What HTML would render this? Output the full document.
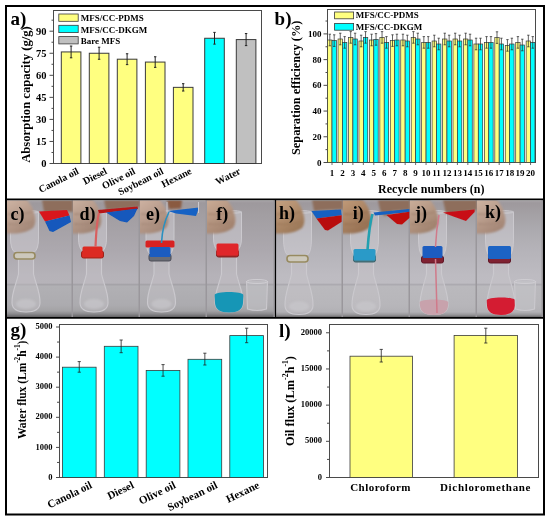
<!DOCTYPE html>
<html><head><meta charset="utf-8"><style>
html,body{margin:0;padding:0;background:#fff;}
svg{display:block;filter:blur(0.4px);}
</style></head><body>
<svg width="550" height="522" viewBox="0 0 550 522">
<rect x="0" y="0" width="550" height="522" fill="#fff"/>
<defs>
<linearGradient id="bg" x1="0" y1="201" x2="0" y2="317" gradientUnits="userSpaceOnUse"><stop offset="0.0000" stop-color="#a6a2a6"/><stop offset="0.0172" stop-color="#9e999d"/><stop offset="0.1207" stop-color="#a29ea2"/><stop offset="0.2500" stop-color="#a6a2a7"/><stop offset="0.4224" stop-color="#aca8ae"/><stop offset="0.6379" stop-color="#b5b2b8"/><stop offset="0.7069" stop-color="#b6b3b9"/><stop offset="0.7198" stop-color="#a5a3a8"/><stop offset="0.7371" stop-color="#b1b0b4"/><stop offset="0.8966" stop-color="#acabaf"/><stop offset="0.9483" stop-color="#a3a2a5"/><stop offset="0.9741" stop-color="#8a898c"/><stop offset="1.0000" stop-color="#626163"/></linearGradient>
<linearGradient id="bg2" x1="0" y1="201" x2="0" y2="317" gradientUnits="userSpaceOnUse"><stop offset="0.0000" stop-color="#a6a2a6"/><stop offset="0.0172" stop-color="#9e999d"/><stop offset="0.1207" stop-color="#a4a1a5"/><stop offset="0.2500" stop-color="#acaaaf"/><stop offset="0.4224" stop-color="#b5b3b9"/><stop offset="0.6379" stop-color="#bdbbc1"/><stop offset="0.7069" stop-color="#bebcc2"/><stop offset="0.7198" stop-color="#acaab0"/><stop offset="0.7371" stop-color="#bab9bd"/><stop offset="0.8966" stop-color="#b7b6ba"/><stop offset="0.9569" stop-color="#b2b1b5"/><stop offset="0.9828" stop-color="#959497"/><stop offset="1.0000" stop-color="#6a696b"/></linearGradient>
<filter id="b05" x="-20%" y="-20%" width="140%" height="140%"><feGaussianBlur stdDeviation="0.5"/></filter>
<filter id="b1" x="-20%" y="-20%" width="140%" height="140%"><feGaussianBlur stdDeviation="0.8"/></filter>
<filter id="b2" x="-30%" y="-30%" width="160%" height="160%"><feGaussianBlur stdDeviation="1.5"/></filter>
<clipPath id="cpc"><rect x="7" y="200.5" width="66" height="117"/></clipPath>
<clipPath id="cpd"><rect x="73" y="200.5" width="67" height="117"/></clipPath>
<clipPath id="cpe"><rect x="140" y="200.5" width="67" height="117"/></clipPath>
<clipPath id="cpf"><rect x="207" y="200.5" width="68" height="117"/></clipPath>
<clipPath id="cph"><rect x="276" y="200.5" width="67" height="117"/></clipPath>
<clipPath id="cpi"><rect x="343" y="200.5" width="67" height="117"/></clipPath>
<clipPath id="cpj"><rect x="410" y="200.5" width="67" height="117"/></clipPath>
<clipPath id="cpk"><rect x="477" y="200.5" width="66" height="117"/></clipPath>
</defs>
<g clip-path="url(#cpc)">
<rect x="7" y="200" width="66" height="118" fill="url(#bg)"/>
<rect x="71.5" y="200" width="1.5" height="118" fill="#9a979c" filter="url(#b05)"/>
<path d="M10.5 212 L10.5 238 Q10.5 249 14.5 252 L34.5 252 Q38.5 249 38.5 238 L38.5 212Z" fill="#d2d0d6" fill-opacity="0.45" stroke="#cbc9ce" stroke-width="1" filter="url(#b05)"/>
<ellipse cx="24.5" cy="212" rx="14" ry="1.6" fill="none" stroke="#c8c6cb" stroke-width="1" filter="url(#b05)"/>
<linearGradient id="hgc" x1="0" y1="0" x2="0.6" y2="1"><stop offset="0" stop-color="#d0b6a6"/><stop offset="1" stop-color="#a48878"/></linearGradient>
<path d="M5 199 L26 199 C30 203 33 208 34 213 C36 218 36 224 33 228 C29 231 23 233 17 233.5 L5 233.5Z" fill="url(#hgc)" filter="url(#b1)"/>
<path d="M8 214 C16 215 24 214 32 212 M8 224 C16 225 24 224 33 222" stroke="#a48878" stroke-width="1.3" fill="none" filter="url(#b1)" opacity="0.8"/>
<path d="M18.5 259 L18.5 274 C16.0 285 11.5 293 12.0 303 Q12.5 312 26.0 312 Q39.5 312 40.0 303 C40.5 293 36.0 285 33.5 274 L33.5 259Z" stroke="#cbc9ce" stroke-width="1.1" fill="#c8c6cc" fill-opacity="0.35" filter="url(#b05)"/>
<ellipse cx="26.0" cy="304" rx="10" ry="5" fill="#cac9cd" opacity="0.6" filter="url(#b1)"/>
<path d="M18.5 266 L10.0 266" stroke="#cbc9ce" stroke-width="1.5" filter="url(#b05)"/>
<rect x="14.0" y="252.5" width="21" height="6.5" rx="3" fill="#ccc8bc" stroke="#978a60" stroke-width="1.6" filter="url(#b05)"/>
<path d="M42 200 L73 200 L73 212 L62 211 L52 213 L44 212Z" fill="#8e6e5c" filter="url(#b1)" />
<path d="M39 211.5 L67 210 L69.5 215.5 L45 221.5Z" fill="#d8141c" filter="url(#b05)" />
<path d="M45 221.5 L69.5 215.5 L71 222 L53 232 L49.5 231Z" fill="#1258bc" filter="url(#b05)" />
<text x="10.6" y="219.7" font-family="Liberation Serif" font-weight="bold" font-size="18">c)</text>
</g>
<g clip-path="url(#cpd)">
<rect x="73" y="200" width="67" height="118" fill="url(#bg)"/>
<rect x="138.5" y="200" width="1.5" height="118" fill="#9a979c" filter="url(#b05)"/>
<path d="M78.5 212 L78.5 238 Q78.5 248 82.5 251 L102.5 251 Q106.5 248 106.5 238 L106.5 212Z" fill="#d2d0d6" fill-opacity="0.45" stroke="#cbc9ce" stroke-width="1" filter="url(#b05)"/>
<ellipse cx="92.5" cy="212" rx="14" ry="1.6" fill="none" stroke="#c8c6cb" stroke-width="1" filter="url(#b05)"/>
<linearGradient id="hgd" x1="0" y1="0" x2="0.6" y2="1"><stop offset="0" stop-color="#ccb2a2"/><stop offset="1" stop-color="#a08474"/></linearGradient>
<path d="M71 199 L92 199 C96 203 99 208 100 213 C102 218 102 224 99 228 C95 231 89 233 83 233.5 L71 233.5Z" fill="url(#hgd)" filter="url(#b1)"/>
<path d="M74 214 C82 215 90 214 98 212 M74 224 C82 225 90 224 99 222" stroke="#a08474" stroke-width="1.3" fill="none" filter="url(#b1)" opacity="0.8"/>
<path d="M86.5 258 L86.5 274 C84.0 285 79.5 293 80.0 303 Q80.5 312 94.0 312 Q107.5 312 108.0 303 C108.5 293 104.0 285 101.5 274 L101.5 258Z" stroke="#cbc9ce" stroke-width="1.1" fill="#c8c6cc" fill-opacity="0.35" filter="url(#b05)"/>
<ellipse cx="94.0" cy="304" rx="10" ry="5" fill="#cac9cd" opacity="0.6" filter="url(#b1)"/>
<path d="M86.5 266 L78.0 266" stroke="#cbc9ce" stroke-width="1.5" filter="url(#b05)"/>
<rect x="81.5" y="251" width="22" height="7" rx="2" fill="#d42a22" stroke="#a02018" stroke-width="1" filter="url(#b05)"/>
<rect x="82.5" y="246.5" width="20" height="10.5" rx="1.5" fill="#dc2a22" filter="url(#b05)"/>
<path d="M104 200 L140 200 L140 207 L120 209 L106 210Z" fill="#8e6e5c" filter="url(#b1)" />
<path d="M98 210 L137.5 206.5 L138 209 L99 213.5Z" fill="#b81418" filter="url(#b05)" />
<path d="M106 212.5 L137.5 208.5 L134 216 L127 222.5 L120 221Z" fill="#1258bc" filter="url(#b05)" />
<path d="M99 213 C96.5 222 96 236 95.5 247" stroke="#d86060" stroke-width="2.2" fill="none" filter="url(#b05)"/>
<text x="79.6" y="219.5" font-family="Liberation Serif" font-weight="bold" font-size="18">d)</text>
</g>
<g clip-path="url(#cpe)">
<rect x="140" y="200" width="67" height="118" fill="url(#bg)"/>
<rect x="205.5" y="200" width="1.5" height="118" fill="#9a979c" filter="url(#b05)"/>
<path d="M146 212 L146 238 Q146 251 150 254 L170 254 Q174 251 174 238 L174 212Z" fill="#d2d0d6" fill-opacity="0.45" stroke="#cbc9ce" stroke-width="1" filter="url(#b05)"/>
<ellipse cx="160" cy="212" rx="14" ry="1.6" fill="none" stroke="#c8c6cb" stroke-width="1" filter="url(#b05)"/>
<linearGradient id="hge" x1="0" y1="0" x2="0.6" y2="1"><stop offset="0" stop-color="#d0b4a4"/><stop offset="1" stop-color="#a48878"/></linearGradient>
<path d="M138 199 L159 199 C163 203 166 208 167 213 C169 218 169 224 166 228 C162 231 156 233 150 233.5 L138 233.5Z" fill="url(#hge)" filter="url(#b1)"/>
<path d="M141 214 C149 215 157 214 165 212 M141 224 C149 225 157 224 166 222" stroke="#a48878" stroke-width="1.3" fill="none" filter="url(#b1)" opacity="0.8"/>
<path d="M154.0 261 L154.0 274 C151.5 285 147.0 293 147.5 303 Q148.0 312 161.5 312 Q175.0 312 175.5 303 C176.0 293 171.5 285 169.0 274 L169.0 261Z" stroke="#cbc9ce" stroke-width="1.1" fill="#c8c6cc" fill-opacity="0.35" filter="url(#b05)"/>
<ellipse cx="161.5" cy="304" rx="10" ry="5" fill="#cac9cd" opacity="0.6" filter="url(#b1)"/>
<path d="M154.0 266 L145.5 266" stroke="#cbc9ce" stroke-width="1.5" filter="url(#b05)"/>
<rect x="149" y="254" width="22" height="7" rx="2" fill="#6a6c74" stroke="#4a4a56" stroke-width="1" filter="url(#b05)"/>
<rect x="145.5" y="240.5" width="29" height="7" rx="1.5" fill="#d82020" filter="url(#b05)"/>
<rect x="149.5" y="247" width="21" height="10" rx="1.5" fill="#1a5cc0" filter="url(#b05)"/>
<path d="M167 200 L182 200 L181 208.5 L169 209Z" fill="#8a5a40" filter="url(#b1)" />
<path d="M168 211 L199 207.5 L196 216 L176 213.5Z" fill="#1462c4" filter="url(#b05)" />
<path d="M198.5 202 L198.5 213 M167 202 L167 212" stroke="#cbc9ce" stroke-width="1" filter="url(#b05)"/>
<path d="M169 212 C165 220 162 232 161.5 243" stroke="#2a90c0" stroke-width="1.6" fill="none" filter="url(#b05)"/>
<text x="146" y="219.5" font-family="Liberation Serif" font-weight="bold" font-size="18">e)</text>
</g>
<g clip-path="url(#cpf)">
<rect x="207" y="200" width="68" height="118" fill="url(#bg)"/>
<rect x="273.5" y="200" width="1.5" height="118" fill="#9a979c" filter="url(#b05)"/>
<path d="M213.5 212 L213.5 238 Q213.5 247 217.5 250 L237.5 250 Q241.5 247 241.5 238 L241.5 212Z" fill="#d2d0d6" fill-opacity="0.45" stroke="#cbc9ce" stroke-width="1" filter="url(#b05)"/>
<ellipse cx="227.5" cy="212" rx="14" ry="1.6" fill="none" stroke="#c8c6cb" stroke-width="1" filter="url(#b05)"/>
<linearGradient id="hgf" x1="0" y1="0" x2="0.6" y2="1"><stop offset="0" stop-color="#ccae98"/><stop offset="1" stop-color="#a2826e"/></linearGradient>
<path d="M205 199 L226 199 C230 203 233 208 234 213 C236 218 236 224 233 228 C229 231 223 233 217 233.5 L205 233.5Z" fill="url(#hgf)" filter="url(#b1)"/>
<path d="M208 214 C216 215 224 214 232 212 M208 224 C216 225 224 224 233 222" stroke="#a2826e" stroke-width="1.3" fill="none" filter="url(#b1)" opacity="0.8"/>
<path d="M221.5 257 L221.5 274 C219.0 285 214.5 293 215.0 303 Q215.5 312 229.0 312 Q242.5 312 243.0 303 C243.5 293 239.0 285 236.5 274 L236.5 257Z" stroke="#cbc9ce" stroke-width="1.1" fill="#c8c6cc" fill-opacity="0.35" filter="url(#b05)"/>
<ellipse cx="229.0" cy="304" rx="10" ry="5" fill="#cac9cd" opacity="0.6" filter="url(#b1)"/>
<path d="M221.5 266 L213.0 266" stroke="#cbc9ce" stroke-width="1.5" filter="url(#b05)"/>
<path d="M214.7 295 C214.5 291 243.5 291 243.3 295 L243.0 303 Q242.5 312.5 229.0 312.5 Q215.5 312.5 215.0 303Z" fill="#1896b6" filter="url(#b05)"/>
<rect x="216.5" y="250" width="22" height="7" rx="2" fill="#a82828" stroke="#802020" stroke-width="1" filter="url(#b05)"/>
<rect x="216.5" y="243.5" width="22" height="12" rx="1.5" fill="#e0282a" filter="url(#b05)"/>
<path d="M246.5 281 L247.5 309 Q257 312 266.5 309 L267.5 281" stroke="#cbc9ce" stroke-width="1.1" fill="#c6c5ca" fill-opacity="0.5" filter="url(#b05)"/>
<ellipse cx="257" cy="281.5" rx="10.5" ry="2" fill="none" stroke="#cfcdd2" stroke-width="1" filter="url(#b05)"/>
<text x="216.2" y="219.5" font-family="Liberation Serif" font-weight="bold" font-size="18">f)</text>
</g>
<g clip-path="url(#cph)">
<rect x="276" y="200" width="67" height="118" fill="url(#bg2)"/>
<rect x="341.5" y="200" width="1.5" height="118" fill="#9a979c" filter="url(#b05)"/>
<path d="M283.5 212 L283.5 238 Q283.5 252 287.5 255 L307.5 255 Q311.5 252 311.5 238 L311.5 212Z" fill="#d2d0d6" fill-opacity="0.45" stroke="#cbc9ce" stroke-width="1" filter="url(#b05)"/>
<ellipse cx="297.5" cy="212" rx="14" ry="1.6" fill="none" stroke="#c8c6cb" stroke-width="1" filter="url(#b05)"/>
<linearGradient id="hgh" x1="0" y1="0" x2="0.6" y2="1"><stop offset="0" stop-color="#c8a484"/><stop offset="1" stop-color="#9c7858"/></linearGradient>
<path d="M274 199 L295 199 C299 203 302 208 303 213 C305 218 305 224 302 228 C298 231 292 233 286 233.5 L274 233.5Z" fill="url(#hgh)" filter="url(#b1)"/>
<path d="M277 214 C285 215 293 214 301 212 M277 224 C285 225 293 224 302 222" stroke="#9c7858" stroke-width="1.3" fill="none" filter="url(#b1)" opacity="0.8"/>
<path d="M291.5 262 L291.5 274 C289.0 285 284.5 295.5 285.0 305.5 Q285.5 314.5 299.0 314.5 Q312.5 314.5 313.0 305.5 C313.5 295.5 309.0 285 306.5 274 L306.5 262Z" stroke="#cbc9ce" stroke-width="1.1" fill="#c8c6cc" fill-opacity="0.35" filter="url(#b05)"/>
<ellipse cx="299.0" cy="306.5" rx="10" ry="5" fill="#cac9cd" opacity="0.6" filter="url(#b1)"/>
<path d="M291.5 266 L283.0 266" stroke="#cbc9ce" stroke-width="1.5" filter="url(#b05)"/>
<rect x="287.0" y="255.5" width="21" height="6.5" rx="3" fill="#ccc8bc" stroke="#978a60" stroke-width="1.6" filter="url(#b05)"/>
<path d="M312 200 L343 200 L343 209.5 L325 210 L314 211Z" fill="#8e6e5c" filter="url(#b1)" />
<path d="M311.5 211 L341 209.5 L341.7 215.2 L316.4 218.5Z" fill="#1460c0" filter="url(#b05)" />
<path d="M316.4 218.5 L341.7 215.2 L341.7 221.7 L328 230.5 L325 230Z" fill="#b80c10" filter="url(#b05)" />
<text x="278.9" y="218.7" font-family="Liberation Serif" font-weight="bold" font-size="18">h)</text>
</g>
<g clip-path="url(#cpi)">
<rect x="343" y="200" width="67" height="118" fill="url(#bg2)"/>
<rect x="408.5" y="200" width="1.5" height="118" fill="#9a979c" filter="url(#b05)"/>
<path d="M350.5 212 L350.5 238 Q350.5 252 354.5 255 L374.5 255 Q378.5 252 378.5 238 L378.5 212Z" fill="#d2d0d6" fill-opacity="0.45" stroke="#cbc9ce" stroke-width="1" filter="url(#b05)"/>
<ellipse cx="364.5" cy="212" rx="14" ry="1.6" fill="none" stroke="#c8c6cb" stroke-width="1" filter="url(#b05)"/>
<linearGradient id="hgi" x1="0" y1="0" x2="0.6" y2="1"><stop offset="0" stop-color="#c29c7a"/><stop offset="1" stop-color="#967052"/></linearGradient>
<path d="M341 199 L362 199 C366 203 369 208 370 213 C372 218 372 224 369 228 C365 231 359 233 353 233.5 L341 233.5Z" fill="url(#hgi)" filter="url(#b1)"/>
<path d="M344 214 C352 215 360 214 368 212 M344 224 C352 225 360 224 369 222" stroke="#967052" stroke-width="1.3" fill="none" filter="url(#b1)" opacity="0.8"/>
<path d="M358.5 262 L358.5 274 C356.0 285 351.5 295.5 352.0 305.5 Q352.5 314.5 366.0 314.5 Q379.5 314.5 380.0 305.5 C380.5 295.5 376.0 285 373.5 274 L373.5 262Z" stroke="#cbc9ce" stroke-width="1.1" fill="#c8c6cc" fill-opacity="0.35" filter="url(#b05)"/>
<ellipse cx="366.0" cy="306.5" rx="10" ry="5" fill="#cac9cd" opacity="0.6" filter="url(#b1)"/>
<path d="M358.5 266 L350.0 266" stroke="#cbc9ce" stroke-width="1.5" filter="url(#b05)"/>
<rect x="353.5" y="255" width="22" height="7" rx="2" fill="#4a7a84" stroke="#3a6068" stroke-width="1" filter="url(#b05)"/>
<rect x="353.5" y="249" width="22" height="11.5" rx="1.5" fill="#2a9ac8" filter="url(#b05)"/>
<path d="M378 200 L410 200 L410 210 L392 211 L390 215 L384 216 L380 210Z" fill="#8e6e5c" filter="url(#b1)" />
<path d="M373.5 212.5 L409.4 209 L409.4 212 L375 215.5Z" fill="#1460c0" filter="url(#b05)" />
<path d="M386.4 215 L409.4 211.7 L409.4 218 L402 224.5 L397 224Z" fill="#c01010" filter="url(#b05)" />
<path d="M372.5 214 C369.5 224 368.5 236 367.5 250" stroke="#22a0b0" stroke-width="2.6" fill="none" filter="url(#b05)"/>
<text x="352.8" y="218.7" font-family="Liberation Serif" font-weight="bold" font-size="18">i)</text>
</g>
<g clip-path="url(#cpj)">
<rect x="410" y="200" width="67" height="118" fill="url(#bg2)"/>
<rect x="475.5" y="200" width="1.5" height="118" fill="#9a979c" filter="url(#b05)"/>
<path d="M418.5 212 L418.5 238 Q418.5 253 422.5 256 L442.5 256 Q446.5 253 446.5 238 L446.5 212Z" fill="#d2d0d6" fill-opacity="0.45" stroke="#cbc9ce" stroke-width="1" filter="url(#b05)"/>
<ellipse cx="432.5" cy="212" rx="14" ry="1.6" fill="none" stroke="#c8c6cb" stroke-width="1" filter="url(#b05)"/>
<linearGradient id="hgj" x1="0" y1="0" x2="0.6" y2="1"><stop offset="0" stop-color="#ccb09c"/><stop offset="1" stop-color="#a0826e"/></linearGradient>
<path d="M408 199 L429 199 C433 203 436 208 437 213 C439 218 439 224 436 228 C432 231 426 233 420 233.5 L408 233.5Z" fill="url(#hgj)" filter="url(#b1)"/>
<path d="M411 214 C419 215 427 214 435 212 M411 224 C419 225 427 224 436 222" stroke="#a0826e" stroke-width="1.3" fill="none" filter="url(#b1)" opacity="0.8"/>
<path d="M426.5 263 L426.5 274 C424.0 285 419.5 295.5 420.0 305.5 Q420.5 314.5 434.0 314.5 Q447.5 314.5 448.0 305.5 C448.5 295.5 444.0 285 441.5 274 L441.5 263Z" stroke="#cbc9ce" stroke-width="1.1" fill="#c8c6cc" fill-opacity="0.35" filter="url(#b05)"/>
<ellipse cx="434.0" cy="306.5" rx="10" ry="5" fill="#cac9cd" opacity="0.6" filter="url(#b1)"/>
<path d="M426.5 266 L418.0 266" stroke="#cbc9ce" stroke-width="1.5" filter="url(#b05)"/>
<path d="M419.7 302.5 C419.5 298.5 448.5 298.5 448.3 302.5 L448.0 305.5 Q447.5 315.0 434.0 315.0 Q420.5 315.0 420.0 305.5Z" fill="#c8a2ac" filter="url(#b05)"/>
<rect x="421.5" y="256" width="22" height="7" rx="2" fill="#802030" stroke="#601828" stroke-width="1" filter="url(#b05)"/>
<rect x="422.5" y="246" width="20" height="12" rx="1.5" fill="#1a5cc0" filter="url(#b05)"/>
<path d="M443 200 L477 200 L477 210 L455 213 L446 214Z" fill="#8e6e5c" filter="url(#b1)" />
<path d="M443 212.6 L474.6 209.5 L474.6 212 L466 221 L452.7 216.3Z" fill="#c81018" filter="url(#b05)" />
<path d="M439 215 C437 226 436 236 435.5 247 M435.5 259 L437 313" stroke="#d07a8a" stroke-width="1.5" fill="none" filter="url(#b05)"/>
<text x="414.9" y="218.8" font-family="Liberation Serif" font-weight="bold" font-size="18">j)</text>
</g>
<g clip-path="url(#cpk)">
<rect x="477" y="200" width="66" height="118" fill="url(#bg2)"/>
<rect x="541.5" y="200" width="1.5" height="118" fill="#9a979c" filter="url(#b05)"/>
<path d="M485.5 212 L485.5 238 Q485.5 253 489.5 256 L509.5 256 Q513.5 253 513.5 238 L513.5 212Z" fill="#d2d0d6" fill-opacity="0.45" stroke="#cbc9ce" stroke-width="1" filter="url(#b05)"/>
<ellipse cx="499.5" cy="212" rx="14" ry="1.6" fill="none" stroke="#c8c6cb" stroke-width="1" filter="url(#b05)"/>
<linearGradient id="hgk" x1="0" y1="0" x2="0.6" y2="1"><stop offset="0" stop-color="#d0b6a4"/><stop offset="1" stop-color="#a48676"/></linearGradient>
<path d="M475 199 L496 199 C500 203 503 208 504 213 C506 218 506 224 503 228 C499 231 493 233 487 233.5 L475 233.5Z" fill="url(#hgk)" filter="url(#b1)"/>
<path d="M478 214 C486 215 494 214 502 212 M478 224 C486 225 494 224 503 222" stroke="#a48676" stroke-width="1.3" fill="none" filter="url(#b1)" opacity="0.8"/>
<path d="M493.5 263 L493.5 274 C491.0 285 486.5 295.5 487.0 305.5 Q487.5 314.5 501.0 314.5 Q514.5 314.5 515.0 305.5 C515.5 295.5 511.0 285 508.5 274 L508.5 263Z" stroke="#cbc9ce" stroke-width="1.1" fill="#c8c6cc" fill-opacity="0.35" filter="url(#b05)"/>
<ellipse cx="501.0" cy="306.5" rx="10" ry="5" fill="#cac9cd" opacity="0.6" filter="url(#b1)"/>
<path d="M493.5 266 L485.0 266" stroke="#cbc9ce" stroke-width="1.5" filter="url(#b05)"/>
<path d="M486.7 300.5 C486.5 296.5 515.5 296.5 515.3 300.5 L515.0 305.5 Q514.5 315.0 501.0 315.0 Q487.5 315.0 487.0 305.5Z" fill="#d41a30" filter="url(#b05)"/>
<rect x="488.5" y="256" width="22" height="7" rx="2" fill="#802030" stroke="#601828" stroke-width="1" filter="url(#b05)"/>
<rect x="488.0" y="246" width="23" height="13" rx="1.5" fill="#1a64c4" filter="url(#b05)"/>
<path d="M514.5 281 L515.5 309 Q525 312 534.5 309 L535.5 281" stroke="#cbc9ce" stroke-width="1.1" fill="#c6c5ca" fill-opacity="0.5" filter="url(#b05)"/>
<ellipse cx="525" cy="281.5" rx="10.5" ry="2" fill="none" stroke="#cfcdd2" stroke-width="1" filter="url(#b05)"/>
<text x="485" y="218.3" font-family="Liberation Serif" font-weight="bold" font-size="18">k)</text>
</g>
<g font-family="Liberation Serif" font-weight="bold">
<rect x="53.5" y="10.5" width="208.0" height="153.0" fill="#fff" stroke="#4a4a4a" stroke-width="1"/>
<path d="M49.5 163.50H53.5" stroke="#4a4a4a" stroke-width="1"/>
<text x="46.50" y="166.90" font-size="10.5" text-anchor="end" >0</text>
<path d="M49.5 141.45H53.5" stroke="#4a4a4a" stroke-width="1"/>
<text x="46.50" y="144.85" font-size="10.5" text-anchor="end" >15</text>
<path d="M49.5 119.40H53.5" stroke="#4a4a4a" stroke-width="1"/>
<text x="46.50" y="122.80" font-size="10.5" text-anchor="end" >30</text>
<path d="M49.5 97.35H53.5" stroke="#4a4a4a" stroke-width="1"/>
<text x="46.50" y="100.75" font-size="10.5" text-anchor="end" >45</text>
<path d="M49.5 75.30H53.5" stroke="#4a4a4a" stroke-width="1"/>
<text x="46.50" y="78.70" font-size="10.5" text-anchor="end" >60</text>
<path d="M49.5 53.25H53.5" stroke="#4a4a4a" stroke-width="1"/>
<text x="46.50" y="56.65" font-size="10.5" text-anchor="end" >75</text>
<path d="M49.5 31.20H53.5" stroke="#4a4a4a" stroke-width="1"/>
<text x="46.50" y="34.60" font-size="10.5" text-anchor="end" >90</text>
<path d="M51.5 152.47H53.5" stroke="#4a4a4a" stroke-width="1"/>
<path d="M51.5 130.43H53.5" stroke="#4a4a4a" stroke-width="1"/>
<path d="M51.5 108.38H53.5" stroke="#4a4a4a" stroke-width="1"/>
<path d="M51.5 86.33H53.5" stroke="#4a4a4a" stroke-width="1"/>
<path d="M51.5 64.28H53.5" stroke="#4a4a4a" stroke-width="1"/>
<path d="M51.5 42.23H53.5" stroke="#4a4a4a" stroke-width="1"/>
<path d="M51.5 20.18H53.5" stroke="#4a4a4a" stroke-width="1"/>
<rect x="61.3" y="51.93" width="19.6" height="111.57" fill="#ffff80" stroke="#3a3a3a" stroke-width="1"/>
<path d="M71.10 46.05V57.81M69.90 46.05H72.30M69.90 57.81H72.30" stroke="#222" stroke-width="1" fill="none"/>
<rect x="89.3" y="53.25" width="19.6" height="110.25" fill="#ffff80" stroke="#3a3a3a" stroke-width="1"/>
<path d="M99.10 47.22V59.28M97.90 47.22H100.30M97.90 59.28H100.30" stroke="#222" stroke-width="1" fill="none"/>
<rect x="117.3" y="59.20" width="19.6" height="104.30" fill="#ffff80" stroke="#3a3a3a" stroke-width="1"/>
<path d="M127.10 53.76V64.64M125.90 53.76H128.30M125.90 64.64H128.30" stroke="#222" stroke-width="1" fill="none"/>
<rect x="145.4" y="62.07" width="19.6" height="101.43" fill="#ffff80" stroke="#3a3a3a" stroke-width="1"/>
<path d="M155.20 56.78V67.36M154.00 56.78H156.40M154.00 67.36H156.40" stroke="#222" stroke-width="1" fill="none"/>
<rect x="173.4" y="87.35" width="19.6" height="76.15" fill="#ffff80" stroke="#3a3a3a" stroke-width="1"/>
<path d="M183.20 83.68V91.03M182.00 83.68H184.40M182.00 91.03H184.40" stroke="#222" stroke-width="1" fill="none"/>
<rect x="204.7" y="38.26" width="19.6" height="125.24" fill="#00ffff" stroke="#3a3a3a" stroke-width="1"/>
<path d="M214.50 32.38V44.14M213.30 32.38H215.70M213.30 44.14H215.70" stroke="#222" stroke-width="1" fill="none"/>
<rect x="236.3" y="39.58" width="19.6" height="123.92" fill="#c0c0c0" stroke="#3a3a3a" stroke-width="1"/>
<path d="M246.10 33.55V45.61M244.90 33.55H247.30M244.90 45.61H247.30" stroke="#222" stroke-width="1" fill="none"/>
<rect x="58.8" y="14.00" width="19.4" height="7.3" fill="#ffff80" stroke="#3a3a3a" stroke-width="0.8"/>
<text x="80.70" y="21.30" font-size="9" text-anchor="start" >MFS/CC-PDMS</text>
<rect x="58.8" y="25.30" width="19.4" height="7.3" fill="#00ffff" stroke="#3a3a3a" stroke-width="0.8"/>
<text x="80.70" y="32.60" font-size="9" text-anchor="start" >MFS/CC-DKGM</text>
<rect x="58.8" y="36.60" width="19.4" height="7.3" fill="#c0c0c0" stroke="#3a3a3a" stroke-width="0.8"/>
<text x="80.70" y="43.90" font-size="9" text-anchor="start" >Bare MFS</text>
<text x="79.60" y="173.20" font-size="10" text-anchor="end" transform="rotate(-27 79.60 173.20)" >Canola oil</text>
<text x="107.80" y="173.20" font-size="10" text-anchor="end" transform="rotate(-27 107.80 173.20)" >Diesel</text>
<text x="136.00" y="173.20" font-size="10" text-anchor="end" transform="rotate(-27 136.00 173.20)" >Olive oil</text>
<text x="164.20" y="173.20" font-size="10" text-anchor="end" transform="rotate(-27 164.20 173.20)" >Soybean oil</text>
<text x="192.30" y="173.20" font-size="10" text-anchor="end" transform="rotate(-27 192.30 173.20)" >Hexane</text>
<text x="241.30" y="173.20" font-size="10" text-anchor="end" transform="rotate(-27 241.30 173.20)" >Water</text>
<text x="29.50" y="94.50" font-size="12.2" text-anchor="middle" transform="rotate(-90 29.50 94.50)" textLength="136.5" lengthAdjust="spacingAndGlyphs" >Absorption capacity (g/g)</text>
<text x="10.50" y="24.50" font-size="19" text-anchor="start" >a)</text>
<rect x="327.5" y="9.5" width="208.0" height="153.0" fill="#fff" stroke="#4a4a4a" stroke-width="1"/>
<path d="M323.5 162.50H327.5" stroke="#4a4a4a" stroke-width="1"/>
<text x="321.60" y="165.50" font-size="9" text-anchor="end" >0</text>
<path d="M323.5 136.78H327.5" stroke="#4a4a4a" stroke-width="1"/>
<text x="321.60" y="139.78" font-size="9" text-anchor="end" >20</text>
<path d="M323.5 111.06H327.5" stroke="#4a4a4a" stroke-width="1"/>
<text x="321.60" y="114.06" font-size="9" text-anchor="end" >40</text>
<path d="M323.5 85.34H327.5" stroke="#4a4a4a" stroke-width="1"/>
<text x="321.60" y="88.34" font-size="9" text-anchor="end" >60</text>
<path d="M323.5 59.62H327.5" stroke="#4a4a4a" stroke-width="1"/>
<text x="321.60" y="62.62" font-size="9" text-anchor="end" >80</text>
<path d="M323.5 33.90H327.5" stroke="#4a4a4a" stroke-width="1"/>
<text x="321.60" y="36.90" font-size="9" text-anchor="end" >100</text>
<path d="M325.5 149.64H327.5" stroke="#4a4a4a" stroke-width="1"/>
<path d="M325.5 123.92H327.5" stroke="#4a4a4a" stroke-width="1"/>
<path d="M325.5 98.20H327.5" stroke="#4a4a4a" stroke-width="1"/>
<path d="M325.5 72.48H327.5" stroke="#4a4a4a" stroke-width="1"/>
<path d="M325.5 46.76H327.5" stroke="#4a4a4a" stroke-width="1"/>
<path d="M325.5 21.04H327.5" stroke="#4a4a4a" stroke-width="1"/>
<rect x="327.60" y="40" width="4.4" height="122.50" fill="#ffff80" stroke="#3a3a3a" stroke-width="0.7"/>
<rect x="332.00" y="40.6" width="4.4" height="121.90" fill="#00ffff" stroke="#3a3a3a" stroke-width="0.7"/>
<path d="M329.80 34.20V45.80M328.60 34.20H331.00M328.60 45.80H331.00" stroke="#222" stroke-width="0.7" fill="none"/>
<path d="M334.20 34.80V46.40M333.00 34.80H335.40M333.00 46.40H335.40" stroke="#222" stroke-width="0.7" fill="none"/>
<text x="332.00" y="175.50" font-size="9" text-anchor="middle" >1</text>
<path d="M332.00 162.5 V165.0" stroke="#4a4a4a" stroke-width="0.8"/>
<rect x="338.05" y="39" width="4.4" height="123.50" fill="#ffff80" stroke="#3a3a3a" stroke-width="0.7"/>
<rect x="342.45" y="42.4" width="4.4" height="120.10" fill="#00ffff" stroke="#3a3a3a" stroke-width="0.7"/>
<path d="M340.25 33.20V44.80M339.05 33.20H341.45M339.05 44.80H341.45" stroke="#222" stroke-width="0.7" fill="none"/>
<path d="M344.65 36.60V48.20M343.45 36.60H345.85M343.45 48.20H345.85" stroke="#222" stroke-width="0.7" fill="none"/>
<text x="342.45" y="175.50" font-size="9" text-anchor="middle" >2</text>
<path d="M342.45 162.5 V165.0" stroke="#4a4a4a" stroke-width="0.8"/>
<rect x="348.50" y="37.4" width="4.4" height="125.10" fill="#ffff80" stroke="#3a3a3a" stroke-width="0.7"/>
<rect x="352.90" y="39" width="4.4" height="123.50" fill="#00ffff" stroke="#3a3a3a" stroke-width="0.7"/>
<path d="M350.70 31.60V43.20M349.50 31.60H351.90M349.50 43.20H351.90" stroke="#222" stroke-width="0.7" fill="none"/>
<path d="M355.10 33.20V44.80M353.90 33.20H356.30M353.90 44.80H356.30" stroke="#222" stroke-width="0.7" fill="none"/>
<text x="352.90" y="175.50" font-size="9" text-anchor="middle" >3</text>
<path d="M352.90 162.5 V165.0" stroke="#4a4a4a" stroke-width="0.8"/>
<rect x="358.95" y="41" width="4.4" height="121.50" fill="#ffff80" stroke="#3a3a3a" stroke-width="0.7"/>
<rect x="363.35" y="37.4" width="4.4" height="125.10" fill="#00ffff" stroke="#3a3a3a" stroke-width="0.7"/>
<path d="M361.15 35.20V46.80M359.95 35.20H362.35M359.95 46.80H362.35" stroke="#222" stroke-width="0.7" fill="none"/>
<path d="M365.55 31.60V43.20M364.35 31.60H366.75M364.35 43.20H366.75" stroke="#222" stroke-width="0.7" fill="none"/>
<text x="363.35" y="175.50" font-size="9" text-anchor="middle" >4</text>
<path d="M363.35 162.5 V165.0" stroke="#4a4a4a" stroke-width="0.8"/>
<rect x="369.40" y="40" width="4.4" height="122.50" fill="#ffff80" stroke="#3a3a3a" stroke-width="0.7"/>
<rect x="373.80" y="39.4" width="4.4" height="123.10" fill="#00ffff" stroke="#3a3a3a" stroke-width="0.7"/>
<path d="M371.60 34.20V45.80M370.40 34.20H372.80M370.40 45.80H372.80" stroke="#222" stroke-width="0.7" fill="none"/>
<path d="M376.00 33.60V45.20M374.80 33.60H377.20M374.80 45.20H377.20" stroke="#222" stroke-width="0.7" fill="none"/>
<text x="373.80" y="175.50" font-size="9" text-anchor="middle" >5</text>
<path d="M373.80 162.5 V165.0" stroke="#4a4a4a" stroke-width="0.8"/>
<rect x="379.85" y="37.4" width="4.4" height="125.10" fill="#ffff80" stroke="#3a3a3a" stroke-width="0.7"/>
<rect x="384.25" y="42.4" width="4.4" height="120.10" fill="#00ffff" stroke="#3a3a3a" stroke-width="0.7"/>
<path d="M382.05 31.60V43.20M380.85 31.60H383.25M380.85 43.20H383.25" stroke="#222" stroke-width="0.7" fill="none"/>
<path d="M386.45 36.60V48.20M385.25 36.60H387.65M385.25 48.20H387.65" stroke="#222" stroke-width="0.7" fill="none"/>
<text x="384.25" y="175.50" font-size="9" text-anchor="middle" >6</text>
<path d="M384.25 162.5 V165.0" stroke="#4a4a4a" stroke-width="0.8"/>
<rect x="390.30" y="40.6" width="4.4" height="121.90" fill="#ffff80" stroke="#3a3a3a" stroke-width="0.7"/>
<rect x="394.70" y="40" width="4.4" height="122.50" fill="#00ffff" stroke="#3a3a3a" stroke-width="0.7"/>
<path d="M392.50 34.80V46.40M391.30 34.80H393.70M391.30 46.40H393.70" stroke="#222" stroke-width="0.7" fill="none"/>
<path d="M396.90 34.20V45.80M395.70 34.20H398.10M395.70 45.80H398.10" stroke="#222" stroke-width="0.7" fill="none"/>
<text x="394.70" y="175.50" font-size="9" text-anchor="middle" >7</text>
<path d="M394.70 162.5 V165.0" stroke="#4a4a4a" stroke-width="0.8"/>
<rect x="400.75" y="40" width="4.4" height="122.50" fill="#ffff80" stroke="#3a3a3a" stroke-width="0.7"/>
<rect x="405.15" y="41" width="4.4" height="121.50" fill="#00ffff" stroke="#3a3a3a" stroke-width="0.7"/>
<path d="M402.95 34.20V45.80M401.75 34.20H404.15M401.75 45.80H404.15" stroke="#222" stroke-width="0.7" fill="none"/>
<path d="M407.35 35.20V46.80M406.15 35.20H408.55M406.15 46.80H408.55" stroke="#222" stroke-width="0.7" fill="none"/>
<text x="405.15" y="175.50" font-size="9" text-anchor="middle" >8</text>
<path d="M405.15 162.5 V165.0" stroke="#4a4a4a" stroke-width="0.8"/>
<rect x="411.20" y="37.4" width="4.4" height="125.10" fill="#ffff80" stroke="#3a3a3a" stroke-width="0.7"/>
<rect x="415.60" y="39" width="4.4" height="123.50" fill="#00ffff" stroke="#3a3a3a" stroke-width="0.7"/>
<path d="M413.40 31.60V43.20M412.20 31.60H414.60M412.20 43.20H414.60" stroke="#222" stroke-width="0.7" fill="none"/>
<path d="M417.80 33.20V44.80M416.60 33.20H419.00M416.60 44.80H419.00" stroke="#222" stroke-width="0.7" fill="none"/>
<text x="415.60" y="175.50" font-size="9" text-anchor="middle" >9</text>
<path d="M415.60 162.5 V165.0" stroke="#4a4a4a" stroke-width="0.8"/>
<rect x="421.65" y="42.4" width="4.4" height="120.10" fill="#ffff80" stroke="#3a3a3a" stroke-width="0.7"/>
<rect x="426.05" y="42.4" width="4.4" height="120.10" fill="#00ffff" stroke="#3a3a3a" stroke-width="0.7"/>
<path d="M423.85 36.60V48.20M422.65 36.60H425.05M422.65 48.20H425.05" stroke="#222" stroke-width="0.7" fill="none"/>
<path d="M428.25 36.60V48.20M427.05 36.60H429.45M427.05 48.20H429.45" stroke="#222" stroke-width="0.7" fill="none"/>
<text x="426.05" y="175.50" font-size="9" text-anchor="middle" >10</text>
<path d="M426.05 162.5 V165.0" stroke="#4a4a4a" stroke-width="0.8"/>
<rect x="432.10" y="41" width="4.4" height="121.50" fill="#ffff80" stroke="#3a3a3a" stroke-width="0.7"/>
<rect x="436.50" y="44" width="4.4" height="118.50" fill="#00ffff" stroke="#3a3a3a" stroke-width="0.7"/>
<path d="M434.30 35.20V46.80M433.10 35.20H435.50M433.10 46.80H435.50" stroke="#222" stroke-width="0.7" fill="none"/>
<path d="M438.70 38.20V49.80M437.50 38.20H439.90M437.50 49.80H439.90" stroke="#222" stroke-width="0.7" fill="none"/>
<text x="436.50" y="175.50" font-size="9" text-anchor="middle" >11</text>
<path d="M436.50 162.5 V165.0" stroke="#4a4a4a" stroke-width="0.8"/>
<rect x="442.55" y="39" width="4.4" height="123.50" fill="#ffff80" stroke="#3a3a3a" stroke-width="0.7"/>
<rect x="446.95" y="41" width="4.4" height="121.50" fill="#00ffff" stroke="#3a3a3a" stroke-width="0.7"/>
<path d="M444.75 33.20V44.80M443.55 33.20H445.95M443.55 44.80H445.95" stroke="#222" stroke-width="0.7" fill="none"/>
<path d="M449.15 35.20V46.80M447.95 35.20H450.35M447.95 46.80H450.35" stroke="#222" stroke-width="0.7" fill="none"/>
<text x="446.95" y="175.50" font-size="9" text-anchor="middle" >12</text>
<path d="M446.95 162.5 V165.0" stroke="#4a4a4a" stroke-width="0.8"/>
<rect x="453.00" y="39" width="4.4" height="123.50" fill="#ffff80" stroke="#3a3a3a" stroke-width="0.7"/>
<rect x="457.40" y="41" width="4.4" height="121.50" fill="#00ffff" stroke="#3a3a3a" stroke-width="0.7"/>
<path d="M455.20 33.20V44.80M454.00 33.20H456.40M454.00 44.80H456.40" stroke="#222" stroke-width="0.7" fill="none"/>
<path d="M459.60 35.20V46.80M458.40 35.20H460.80M458.40 46.80H460.80" stroke="#222" stroke-width="0.7" fill="none"/>
<text x="457.40" y="175.50" font-size="9" text-anchor="middle" >13</text>
<path d="M457.40 162.5 V165.0" stroke="#4a4a4a" stroke-width="0.8"/>
<rect x="463.45" y="39" width="4.4" height="123.50" fill="#ffff80" stroke="#3a3a3a" stroke-width="0.7"/>
<rect x="467.85" y="40" width="4.4" height="122.50" fill="#00ffff" stroke="#3a3a3a" stroke-width="0.7"/>
<path d="M465.65 33.20V44.80M464.45 33.20H466.85M464.45 44.80H466.85" stroke="#222" stroke-width="0.7" fill="none"/>
<path d="M470.05 34.20V45.80M468.85 34.20H471.25M468.85 45.80H471.25" stroke="#222" stroke-width="0.7" fill="none"/>
<text x="467.85" y="175.50" font-size="9" text-anchor="middle" >14</text>
<path d="M467.85 162.5 V165.0" stroke="#4a4a4a" stroke-width="0.8"/>
<rect x="473.90" y="44" width="4.4" height="118.50" fill="#ffff80" stroke="#3a3a3a" stroke-width="0.7"/>
<rect x="478.30" y="44" width="4.4" height="118.50" fill="#00ffff" stroke="#3a3a3a" stroke-width="0.7"/>
<path d="M476.10 38.20V49.80M474.90 38.20H477.30M474.90 49.80H477.30" stroke="#222" stroke-width="0.7" fill="none"/>
<path d="M480.50 38.20V49.80M479.30 38.20H481.70M479.30 49.80H481.70" stroke="#222" stroke-width="0.7" fill="none"/>
<text x="478.30" y="175.50" font-size="9" text-anchor="middle" >15</text>
<path d="M478.30 162.5 V165.0" stroke="#4a4a4a" stroke-width="0.8"/>
<rect x="484.35" y="42.4" width="4.4" height="120.10" fill="#ffff80" stroke="#3a3a3a" stroke-width="0.7"/>
<rect x="488.75" y="42.4" width="4.4" height="120.10" fill="#00ffff" stroke="#3a3a3a" stroke-width="0.7"/>
<path d="M486.55 36.60V48.20M485.35 36.60H487.75M485.35 48.20H487.75" stroke="#222" stroke-width="0.7" fill="none"/>
<path d="M490.95 36.60V48.20M489.75 36.60H492.15M489.75 48.20H492.15" stroke="#222" stroke-width="0.7" fill="none"/>
<text x="488.75" y="175.50" font-size="9" text-anchor="middle" >16</text>
<path d="M488.75 162.5 V165.0" stroke="#4a4a4a" stroke-width="0.8"/>
<rect x="494.80" y="37.6" width="4.4" height="124.90" fill="#ffff80" stroke="#3a3a3a" stroke-width="0.7"/>
<rect x="499.20" y="44" width="4.4" height="118.50" fill="#00ffff" stroke="#3a3a3a" stroke-width="0.7"/>
<path d="M497.00 31.80V43.40M495.80 31.80H498.20M495.80 43.40H498.20" stroke="#222" stroke-width="0.7" fill="none"/>
<path d="M501.40 38.20V49.80M500.20 38.20H502.60M500.20 49.80H502.60" stroke="#222" stroke-width="0.7" fill="none"/>
<text x="499.20" y="175.50" font-size="9" text-anchor="middle" >17</text>
<path d="M499.20 162.5 V165.0" stroke="#4a4a4a" stroke-width="0.8"/>
<rect x="505.25" y="45.4" width="4.4" height="117.10" fill="#ffff80" stroke="#3a3a3a" stroke-width="0.7"/>
<rect x="509.65" y="44" width="4.4" height="118.50" fill="#00ffff" stroke="#3a3a3a" stroke-width="0.7"/>
<path d="M507.45 39.60V51.20M506.25 39.60H508.65M506.25 51.20H508.65" stroke="#222" stroke-width="0.7" fill="none"/>
<path d="M511.85 38.20V49.80M510.65 38.20H513.05M510.65 49.80H513.05" stroke="#222" stroke-width="0.7" fill="none"/>
<text x="509.65" y="175.50" font-size="9" text-anchor="middle" >18</text>
<path d="M509.65 162.5 V165.0" stroke="#4a4a4a" stroke-width="0.8"/>
<rect x="515.70" y="42.4" width="4.4" height="120.10" fill="#ffff80" stroke="#3a3a3a" stroke-width="0.7"/>
<rect x="520.10" y="45" width="4.4" height="117.50" fill="#00ffff" stroke="#3a3a3a" stroke-width="0.7"/>
<path d="M517.90 36.60V48.20M516.70 36.60H519.10M516.70 48.20H519.10" stroke="#222" stroke-width="0.7" fill="none"/>
<path d="M522.30 39.20V50.80M521.10 39.20H523.50M521.10 50.80H523.50" stroke="#222" stroke-width="0.7" fill="none"/>
<text x="520.10" y="175.50" font-size="9" text-anchor="middle" >19</text>
<path d="M520.10 162.5 V165.0" stroke="#4a4a4a" stroke-width="0.8"/>
<rect x="526.15" y="41" width="4.4" height="121.50" fill="#ffff80" stroke="#3a3a3a" stroke-width="0.7"/>
<rect x="530.55" y="42.4" width="4.4" height="120.10" fill="#00ffff" stroke="#3a3a3a" stroke-width="0.7"/>
<path d="M528.35 35.20V46.80M527.15 35.20H529.55M527.15 46.80H529.55" stroke="#222" stroke-width="0.7" fill="none"/>
<path d="M532.75 36.60V48.20M531.55 36.60H533.95M531.55 48.20H533.95" stroke="#222" stroke-width="0.7" fill="none"/>
<text x="530.55" y="175.50" font-size="9" text-anchor="middle" >20</text>
<path d="M530.55 162.5 V165.0" stroke="#4a4a4a" stroke-width="0.8"/>
<rect x="334.6" y="12.00" width="19" height="6.8" fill="#ffff80" stroke="#3a3a3a" stroke-width="0.8"/>
<text x="355.80" y="18.40" font-size="9" text-anchor="start" >MFS/CC-PDMS</text>
<rect x="334.6" y="23.40" width="19" height="6.8" fill="#00ffff" stroke="#3a3a3a" stroke-width="0.8"/>
<text x="355.80" y="29.80" font-size="9" text-anchor="start" >MFS/CC-DKGM</text>
<text x="378.00" y="193.00" font-size="12" text-anchor="start" textLength="106.5" lengthAdjust="spacing" >Recycle numbers (n)</text>
<text x="300.50" y="87.80" font-size="11.8" text-anchor="middle" transform="rotate(-90 300.50 87.80)" textLength="134.5" lengthAdjust="spacingAndGlyphs" >Separation efficiency (%)</text>
<text x="274.60" y="25.00" font-size="19" text-anchor="start" >b)</text>
<rect x="59.5" y="324.5" width="208.0" height="153.0" fill="#fff" stroke="#4a4a4a" stroke-width="1"/>
<path d="M56.0 477.50H59.5" stroke="#4a4a4a" stroke-width="1"/>
<text x="52.50" y="479.60" font-size="8.5" text-anchor="end" >0</text>
<path d="M56.0 447.40H59.5" stroke="#4a4a4a" stroke-width="1"/>
<text x="52.50" y="449.50" font-size="8.5" text-anchor="end" >1000</text>
<path d="M56.0 417.30H59.5" stroke="#4a4a4a" stroke-width="1"/>
<text x="52.50" y="419.40" font-size="8.5" text-anchor="end" >2000</text>
<path d="M56.0 387.20H59.5" stroke="#4a4a4a" stroke-width="1"/>
<text x="52.50" y="389.30" font-size="8.5" text-anchor="end" >3000</text>
<path d="M56.0 357.10H59.5" stroke="#4a4a4a" stroke-width="1"/>
<text x="52.50" y="359.20" font-size="8.5" text-anchor="end" >4000</text>
<path d="M56.0 327.00H59.5" stroke="#4a4a4a" stroke-width="1"/>
<text x="52.50" y="329.10" font-size="8.5" text-anchor="end" >5000</text>
<path d="M57.0 462.45H59.5" stroke="#4a4a4a" stroke-width="1"/>
<path d="M57.0 432.35H59.5" stroke="#4a4a4a" stroke-width="1"/>
<path d="M57.0 402.25H59.5" stroke="#4a4a4a" stroke-width="1"/>
<path d="M57.0 372.15H59.5" stroke="#4a4a4a" stroke-width="1"/>
<path d="M57.0 342.05H59.5" stroke="#4a4a4a" stroke-width="1"/>
<rect x="62.4" y="367.2" width="33.7" height="110.30" fill="#00ffff" stroke="#3a3a3a" stroke-width="0.8"/>
<path d="M79.25 361.60V372.20M77.65 361.60H80.85M77.65 372.20H80.85" stroke="#222" stroke-width="0.8" fill="none"/>
<text x="92.75" y="487.50" font-size="11" text-anchor="end" transform="rotate(-26 92.75 487.50)" >Canola oil</text>
<rect x="104.3" y="346.3" width="33.7" height="131.20" fill="#00ffff" stroke="#3a3a3a" stroke-width="0.8"/>
<path d="M121.15 340.00V352.70M119.55 340.00H122.75M119.55 352.70H122.75" stroke="#222" stroke-width="0.8" fill="none"/>
<text x="134.65" y="487.50" font-size="11" text-anchor="end" transform="rotate(-26 134.65 487.50)" >Diesel</text>
<rect x="146.2" y="370.4" width="33.7" height="107.10" fill="#00ffff" stroke="#3a3a3a" stroke-width="0.8"/>
<path d="M163.05 364.60V376.20M161.45 364.60H164.65M161.45 376.20H164.65" stroke="#222" stroke-width="0.8" fill="none"/>
<text x="176.55" y="487.50" font-size="11" text-anchor="end" transform="rotate(-26 176.55 487.50)" >Olive oil</text>
<rect x="188.0" y="359.3" width="33.7" height="118.20" fill="#00ffff" stroke="#3a3a3a" stroke-width="0.8"/>
<path d="M204.85 353.20V365.00M203.25 353.20H206.45M203.25 365.00H206.45" stroke="#222" stroke-width="0.8" fill="none"/>
<text x="218.35" y="487.50" font-size="11" text-anchor="end" transform="rotate(-26 218.35 487.50)" >Soybean oil</text>
<rect x="229.8" y="335.6" width="33.7" height="141.90" fill="#00ffff" stroke="#3a3a3a" stroke-width="0.8"/>
<path d="M246.65 328.20V342.70M245.05 328.20H248.25M245.05 342.70H248.25" stroke="#222" stroke-width="0.8" fill="none"/>
<text x="260.15" y="487.50" font-size="11" text-anchor="end" transform="rotate(-26 260.15 487.50)" >Hexane</text>
<text x="0" y="0" font-size="13.5" text-anchor="middle" transform="translate(26.3 389.8) rotate(-90) scale(0.85 1)">Water flux (Lm<tspan font-size="8.5" dy="-6">-2</tspan><tspan dy="6">h</tspan><tspan font-size="8.5" dy="-6">-1</tspan><tspan dy="6">)</tspan></text>
<text x="10.50" y="336.00" font-size="19" text-anchor="start" >g)</text>
<rect x="329.5" y="324.5" width="209.0" height="153.0" fill="#fff" stroke="#4a4a4a" stroke-width="1"/>
<path d="M326.0 477.50H329.5" stroke="#4a4a4a" stroke-width="1"/>
<text x="322.00" y="479.60" font-size="8.5" text-anchor="end" >0</text>
<path d="M326.0 441.32H329.5" stroke="#4a4a4a" stroke-width="1"/>
<text x="322.00" y="443.42" font-size="8.5" text-anchor="end" >5000</text>
<path d="M326.0 405.14H329.5" stroke="#4a4a4a" stroke-width="1"/>
<text x="322.00" y="407.24" font-size="8.5" text-anchor="end" >10000</text>
<path d="M326.0 368.96H329.5" stroke="#4a4a4a" stroke-width="1"/>
<text x="322.00" y="371.06" font-size="8.5" text-anchor="end" >15000</text>
<path d="M326.0 332.78H329.5" stroke="#4a4a4a" stroke-width="1"/>
<text x="322.00" y="334.88" font-size="8.5" text-anchor="end" >20000</text>
<path d="M327.0 459.41H329.5" stroke="#4a4a4a" stroke-width="1"/>
<path d="M327.0 423.23H329.5" stroke="#4a4a4a" stroke-width="1"/>
<path d="M327.0 387.05H329.5" stroke="#4a4a4a" stroke-width="1"/>
<path d="M327.0 350.87H329.5" stroke="#4a4a4a" stroke-width="1"/>
<rect x="350.0" y="356.2" width="62.50" height="121.30" fill="#ffff80" stroke="#3a3a3a" stroke-width="0.8"/>
<path d="M381.25 349.40V362.00M379.65 349.40H382.85M379.65 362.00H382.85" stroke="#222" stroke-width="0.8" fill="none"/>
<rect x="454.1" y="335.4" width="63.40" height="142.10" fill="#ffff80" stroke="#3a3a3a" stroke-width="0.8"/>
<path d="M485.80 328.20V343.00M484.20 328.20H487.40M484.20 343.00H487.40" stroke="#222" stroke-width="0.8" fill="none"/>
<text x="350.20" y="490.70" font-size="11" text-anchor="start" textLength="60.2" lengthAdjust="spacing" >Chloroform</text>
<text x="440.00" y="490.70" font-size="11" text-anchor="start" textLength="90.5" lengthAdjust="spacing" >Dichloromethane</text>
<text x="0" y="0" font-size="13" text-anchor="middle" transform="translate(293.5 401.1) rotate(-90) scale(0.955 1)">Oil flux (Lm<tspan font-size="8" dy="-6">-2</tspan><tspan dy="6">h</tspan><tspan font-size="8" dy="-6">-1</tspan><tspan dy="6">)</tspan></text>
<text x="279.00" y="336.60" font-size="19" text-anchor="start" >l)</text>
</g>
<path d="M6 199.4H544M6 317.8H544" stroke="#000" stroke-width="1.7"/>
<path d="M275.5 200V318" stroke="#000" stroke-width="1.2"/>
<rect x="6" y="6" width="538" height="508.5" fill="none" stroke="#000" stroke-width="2"/>
</svg>
</body></html>
